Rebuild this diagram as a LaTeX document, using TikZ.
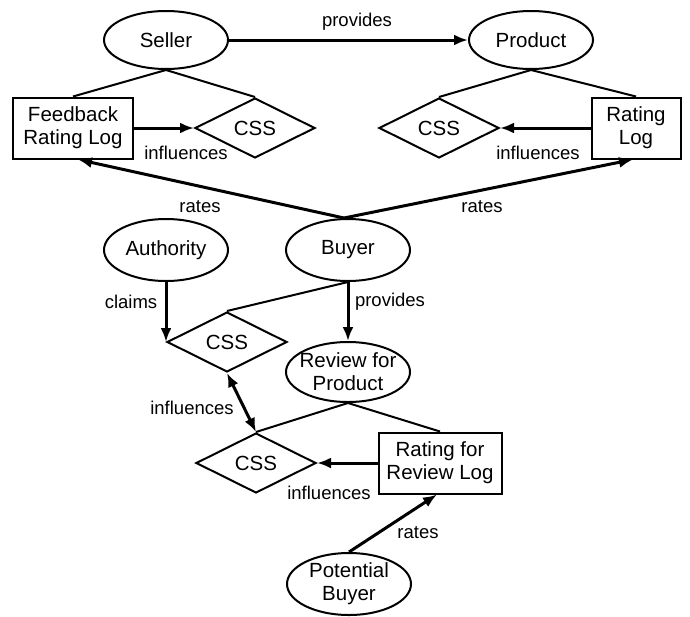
\documentclass[tikz,border=0pt]{standalone}
\usepackage{fontspec}
\setmainfont{Liberation Sans}
\usepackage{tikz}
\usetikzlibrary{positioning,shapes.geometric,arrows.meta}

\begin{document}
\begin{tikzpicture}[x=1pt, y=-1pt,
	entity/.style={ellipse, draw, line width=2pt, align=center,
		inner xsep=-6pt, inner ysep=-2pt, minimum width=124pt, minimum height=58pt,
		font=\fontsize{20.5}{23}\selectfont},
	logbox/.style={rectangle, draw, line width=2pt, align=center,
		minimum height=61pt, font=\fontsize{20.5}{23}\selectfont},
	css/.style={diamond, draw, line width=2pt, inner sep=0pt,
		minimum width=120pt, minimum height=60pt, font=\fontsize{20.5}{23}\selectfont},
	lbl/.style={inner sep=0pt, font=\fontsize{18.5}{21}\selectfont},
	link/.style={line width=2pt},
	arr/.style={line width=3pt, -{Latex[length=14pt,width=11pt]}},
	darr/.style={line width=3pt, {Latex[length=14pt,width=11pt]}-{Latex[length=14pt,width=11pt]}}]
\useasboundingbox (0,0) rectangle (690,616);

\node[entity] (seller) at (166,40) {Seller};
\node[entity] (product) at (531,40) {Product};
\node[logbox, minimum width=120pt] (fbl) at (73,128) {Feedback\\Rating Log};
\node[css] (css1) at (255,128) {CSS};
\node[css] (css2) at (439,128) {CSS};
\node[logbox, minimum width=89pt] (rlog) at (636,128) {Rating\\Log};
\node[entity, minimum height=62pt] (auth) at (166,250) {Authority};
\node[entity, minimum height=62pt] (buyer) at (348,250) {Buyer};
\node[css] (css3) at (227,342) {CSS};
\node[entity, minimum height=60pt] (review) at (348,372) {Review for\\Product};
\node[css] (css4) at (256,463) {CSS};
\node[logbox, minimum width=123pt] (rrlog) at (440,463) {Rating for\\Review Log};
\node[entity, minimum height=62pt] (potential) at (349,584) {Potential\\Buyer};

% top part
\draw[arr] (seller.east) -- (product.west);
\draw[link] (seller.south) -- (fbl.north);
\draw[link] (seller.south) -- (css1.north);
\draw[link] (product.south) -- (css2.north);
\draw[link] (product.south) -- (rlog.north);
\draw[arr] (fbl.east) -- (css1.west);
\draw[arr] (rlog.west) -- (css2.east);
\draw[arr] ([xshift=-4pt]buyer.north) -- ([xshift=5pt]fbl.south);
\draw[arr] ([xshift=-4pt]buyer.north) -- ([xshift=-3pt]rlog.south);

% middle
\draw[arr] (auth.south) -- (auth.south |- css3.west);
\draw[link] (buyer.south) -- (css3.north);
\draw[arr] (buyer.south) -- (review.north);
\draw[darr] (css3.south) -- (css4.north);
\draw[link] (review.south) -- (css4.north);
\draw[link] (review.south) -- (rrlog.north);
\draw[arr] (rrlog.west) -- (css4.east);
\draw[arr] (potential.north) -- ([xshift=-3pt]rrlog.south);

% labels
\node[lbl] (l1) at (357,22) {provides};
\node[lbl] (l2) at (186,153) {influences};
\node[lbl] (l3) at (538,153) {influences};
\node[lbl] (l4) at (200,207) {rates};
\node[lbl] (l5) at (482,207) {rates};
\node[lbl] (l6) at (131,302) {claims};
\node[lbl] (l7) at (390,302) {provides};
\node[lbl] (l8) at (192,408) {influences};
\node[lbl] (l9) at (329,493) {influences};
\node[lbl] (l10) at (418,533) {rates};
\end{tikzpicture}
\end{document}
